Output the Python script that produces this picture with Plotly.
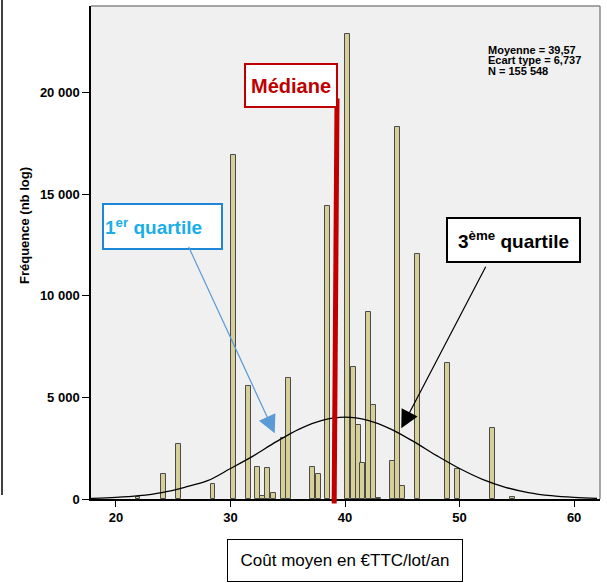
import plotly.graph_objects as go

# Histogram bars (cost bins, counts)
bar_x = [21.92, 24.13, 25.44, 28.47, 30.24, 31.55, 32.38, 32.81, 33.25, 33.74,
         34.61, 35.05, 37.18, 37.67, 38.49, 40.20, 40.72, 41.16, 41.55, 42.03,
         42.47, 42.91, 44.17, 44.60, 45.04, 46.31, 48.97, 49.84, 52.87, 54.65]
bar_y = [100, 1240, 2690, 750, 16900, 5570, 1560, 150, 1510, 280,
         2980, 5950, 1590, 1210, 14400, 22850, 6470, 3640, 1750, 9200,
         4600, 40, 1880, 18280, 640, 12070, 6670, 1460, 3470, 100]

# Normal curve
curve_x = [16, 18, 20, 22, 24, 26, 28, 30, 32, 34, 36, 38, 40,
           42, 44, 46, 48, 50, 52, 54, 56, 58, 60, 62]
curve_y = [13, 33, 76, 162, 318, 577, 900, 1500, 2120, 2820, 3440, 3870, 4030,
           3870, 3440, 2820, 2136, 1500, 966, 577, 318, 162, 76, 33]

y_tickvals = [0, 5000, 10000, 15000, 20000]
y_ticktext = ["0", "5 000", "10 000", "15 000", "20 000"]
x_tickvals = [20, 30, 40, 50, 60]

stats_lines = ["Moyenne = 39,57", "Ecart type = 6,737", "N = 155 548"]

median_x = [39.05, 39.3]
median_top = 19700
q1_arrow = {"tail": (26.28, 12480), "tip": (33.86, 3230)}
q3_arrow = {"tail": (52.35, 11500), "tip": (44.91, 3475)}

X_RANGE = [17.82, 62.26]
Y_RANGE = [0, 24250]

FONT = "Liberation Sans, Arial, sans-serif"

# pixel -> paper helpers (plot area: x 91..600, y 6..499)
def px(xp):
    return (xp - 91) / 509

def py(yp):
    return (499 - yp) / 493

fig = go.Figure()
fig.add_trace(go.Bar(
    x=bar_x, y=bar_y, width=0.42,
    marker=dict(color="#D7CF98", line=dict(color="#4a4a4a", width=1)),
    hoverinfo="x+y", showlegend=False))
fig.add_trace(go.Scatter(
    x=curve_x, y=curve_y, mode="lines", line=dict(color="black", width=1.3, shape="spline"),
    showlegend=False, hoverinfo="skip"))

# Median line
fig.add_shape(type="line", xref="x", yref="paper",
              x0=median_x[0], x1=median_x[1],
              y0=-0.009, y1=median_top / Y_RANGE[1],
              line=dict(color="#C00000", width=5), layer="above")

# Plot frame: grey top/right, outer black left line
fig.add_shape(type="line", xref="paper", yref="paper", x0=0, x1=1, y0=1, y1=1,
              line=dict(color="#8a8a8a", width=1.5))
fig.add_shape(type="line", xref="paper", yref="paper", x0=1, x1=1, y0=0, y1=1,
              line=dict(color="#8a8a8a", width=1.5))
fig.add_shape(type="line", xref="paper", yref="paper", x0=px(2), x1=px(2), y0=py(495), y1=1.02,
              line=dict(color="black", width=1.5))

annotations = [
    # Median box
    dict(x=px(291), y=py(85.5), xref="paper", yref="paper", xanchor="center", yanchor="middle",
         text="<b>Médiane</b>", showarrow=False, font=dict(family=FONT, size=20, color="#C00000"),
         bgcolor="white", bordercolor="#C00000", borderwidth=2, borderpad=1,
         width=88, height=39),
    # 1st quartile box
    dict(x=px(162), y=py(226.7), xref="paper", yref="paper", xanchor="center", yanchor="middle",
         text="<b>1<sup>er</sup> quartile</b>", showarrow=False,
         font=dict(family=FONT, size=19, color="#19AEE6"),
         bgcolor="white", bordercolor="#1E86D6", borderwidth=2, borderpad=1,
         width=115, height=41, align="left"),
    # 3rd quartile box
    dict(x=px(513.7), y=py(240), xref="paper", yref="paper", xanchor="center", yanchor="middle",
         text="<b>3<sup>ème</sup> quartile</b>", showarrow=False,
         font=dict(family=FONT, size=19, color="black"),
         bgcolor="white", bordercolor="black", borderwidth=2, borderpad=1,
         width=129, height=40),
    # arrows
    dict(x=q1_arrow["tip"][0], y=q1_arrow["tip"][1], ax=q1_arrow["tail"][0], ay=q1_arrow["tail"][1],
         xref="x", yref="y", axref="x", ayref="y", text="", showarrow=True,
         arrowhead=2, arrowsize=3, arrowwidth=1.2, arrowcolor="#5B9BD5"),
    dict(x=q3_arrow["tip"][0], y=q3_arrow["tip"][1], ax=q3_arrow["tail"][0], ay=q3_arrow["tail"][1],
         xref="x", yref="y", axref="x", ayref="y", text="", showarrow=True,
         arrowhead=2, arrowsize=3, arrowwidth=1.2, arrowcolor="black"),
    # y title
    dict(x=px(24), y=py(226), xref="paper", yref="paper", xanchor="center", yanchor="middle",
         text="<b>Fréquence (nb log)</b>", textangle=-90, showarrow=False,
         font=dict(family=FONT, size=13, color="black")),
    # x title box
    dict(x=px(345), y=py(560.7), xref="paper", yref="paper", xanchor="center", yanchor="middle",
         text="Coût moyen en €TTC/lot/an", showarrow=False,
         font=dict(family=FONT, size=17, color="black"),
         bgcolor="white", bordercolor="black", borderwidth=1, borderpad=1,
         width=232, height=39),
]
# stats block, one line each for tight spacing
for i, line in enumerate(stats_lines):
    annotations.append(dict(
        x=px(486), y=py(49.5 + 10.5 * i), xref="paper", yref="paper",
        xanchor="left", yanchor="middle", align="left", showarrow=False,
        text="<b>" + line + "</b>",
        font=dict(family="Liberation Sans Narrow, Arial Narrow, Liberation Sans", size=11, color="black")))

fig.update_layout(
    width=607, height=583,
    margin=dict(l=91, r=7, t=6, b=84, autoexpand=False),
    paper_bgcolor="white", plot_bgcolor="#F0F0F0",
    bargap=0, annotations=annotations,
    font=dict(family=FONT, color="black"),
)
fig.update_xaxes(range=X_RANGE, tickvals=x_tickvals, ticks="outside", ticklen=6,
                 tickcolor="black", showline=True, linecolor="black", linewidth=1.5,
                 showgrid=False, zeroline=False,
                 tickfont=dict(family=FONT, size=13, color="black", weight="bold"))
fig.update_yaxes(range=Y_RANGE, tickvals=y_tickvals, ticktext=y_ticktext, ticks="outside",
                 ticklen=7, tickcolor="black", showline=True, linecolor="black", linewidth=1.5,
                 showgrid=False, zeroline=False,
                 tickfont=dict(family=FONT, size=13, color="black", weight="bold"))

fig.write_html("out.html", config={"displayModeBar": False},
               post_script="document.body.style.margin='0';")
